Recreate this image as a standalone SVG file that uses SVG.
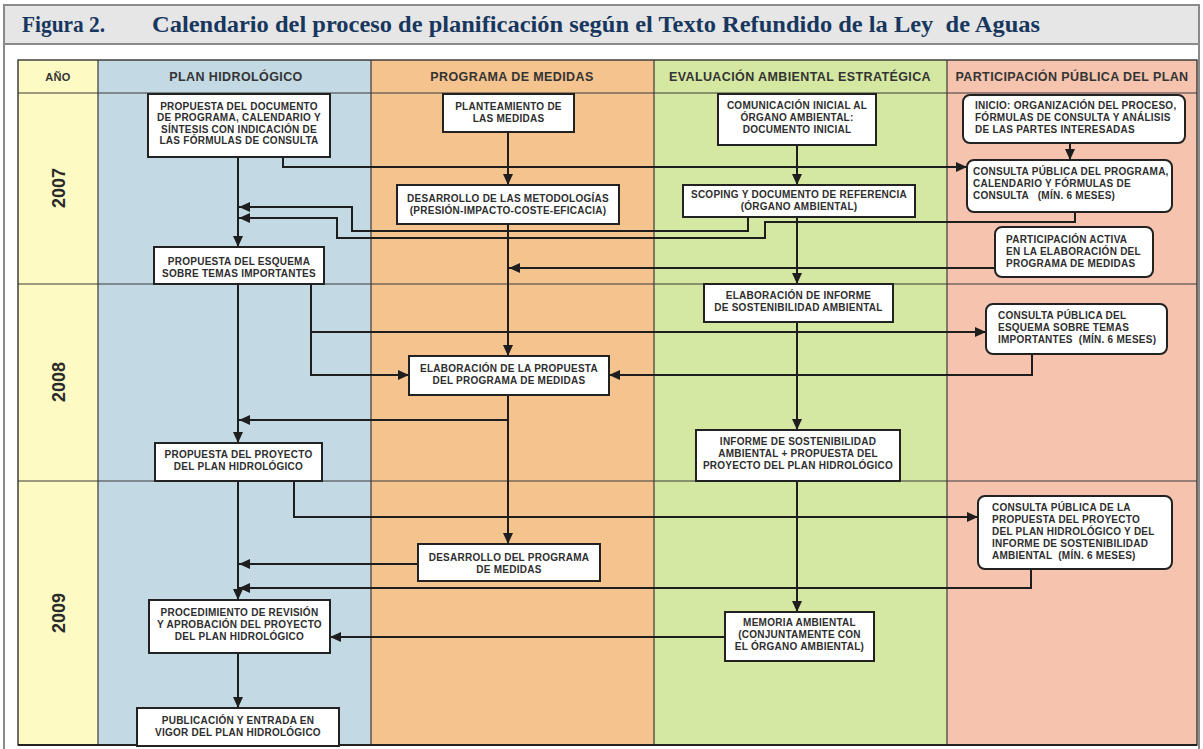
<svg xmlns="http://www.w3.org/2000/svg" width="1203" height="749" viewBox="0 0 1203 749">
<defs>
<style>
.ttl{font-family:"Liberation Serif","Times New Roman",serif;font-weight:bold;font-size:24px;fill:#17375e}
.hd{font-family:"Liberation Sans",Arial,sans-serif;font-weight:bold;font-size:12.5px;fill:#333;letter-spacing:0.4px;text-anchor:middle}
.yr{font-family:"Liberation Sans",Arial,sans-serif;font-weight:bold;font-size:18px;fill:#2a2a2a;text-anchor:middle}
.t{font-family:"Liberation Sans",Arial,sans-serif;font-weight:bold;font-size:10px;fill:#2e2e2e;letter-spacing:0.25px}
.c{text-anchor:middle}
.box{fill:#fff;stroke:#222;stroke-width:2}
.grid{stroke:#3a3a3a;stroke-width:1.2;fill:none}
.arr{fill:none;stroke:#1e1e1e;stroke-width:2;marker-end:url(#ah)}
</style>
<marker id="ah" markerUnits="userSpaceOnUse" markerWidth="11" markerHeight="10" refX="11" refY="5" orient="auto">
<path d="M0,0 L11,5 L0,10 z" fill="#1e1e1e"/>
</marker>
</defs>

<!-- frame and title -->
<g id="frame">
<rect x="0" y="0" width="1203" height="749" fill="#fff"/>
<line x1="4" y1="5" x2="4" y2="749" stroke="#8a8a8a" stroke-width="2"/>
<line x1="1199" y1="5" x2="1199" y2="749" stroke="#8a8a8a" stroke-width="2"/>
<rect x="4" y="5" width="1195" height="39" fill="#e6e6e6" stroke="#8a8a8a" stroke-width="2"/>
<text class="ttl" x="22" y="32" textLength="83" lengthAdjust="spacingAndGlyphs">Figura 2.</text>
<text class="ttl" x="152" y="32" textLength="888" lengthAdjust="spacingAndGlyphs" xml:space="preserve">Calendario del proceso de planificación según el Texto Refundido de la Ley  de Aguas</text>
</g>

<!-- swimlanes -->
<g id="lanes">
<rect x="18" y="60" width="80" height="685" fill="#fdfbc3"/>
<rect x="98" y="60" width="273" height="685" fill="#c3d9e3"/>
<rect x="371" y="60" width="283" height="685" fill="#f5c48e"/>
<rect x="654" y="60" width="293" height="685" fill="#d5e8a2"/>
<rect x="947" y="60" width="250" height="685" fill="#f5c3ae"/>
<path class="grid" d="M98 60V745M371 60V745M654 60V745M947 60V745M18 93H1197M18 284H1197M18 481H1197"/>
<rect x="18" y="60" width="1179" height="685" fill="none" stroke="#333" stroke-width="1.4"/>
<line x1="18" y1="745" x2="1197" y2="745" stroke="#222" stroke-width="2"/>
<text class="hd" x="58" y="81" style="font-size:11px">AÑO</text>
<text class="hd" x="236" y="81">PLAN HIDROLÓGICO</text>
<text class="hd" x="512" y="81">PROGRAMA DE MEDIDAS</text>
<text class="hd" x="800" y="81">EVALUACIÓN AMBIENTAL ESTRATÉGICA</text>
<text class="hd" x="1072" y="81">PARTICIPACIÓN PÚBLICA DEL PLAN</text>
<text class="yr" transform="translate(64.5,188) rotate(-90)">2007</text>
<text class="yr" transform="translate(64.5,382) rotate(-90)">2008</text>
<text class="yr" transform="translate(64.5,613) rotate(-90)">2009</text>
</g>

<!-- connectors -->
<g id="connectors">
<path class="arr" d="M238 157V247"/>
<path class="arr" d="M283 157V167H967"/>
<path class="arr" d="M748 217V231H352V207H239"/>
<path class="arr" d="M1075 212V222H765V238H337V218H239"/>
<path class="arr" d="M508 132V185"/>
<path class="arr" d="M797 145V185"/>
<path class="arr" d="M1070 143V160"/>
<path class="arr" d="M995 268H509"/>
<path class="arr" d="M508 224V356"/>
<path class="arr" d="M797 217V284"/>
<path class="arr" d="M238 284V443"/>
<path class="arr" d="M311 284V375H409"/>
<path class="arr" d="M311 332H986"/>
<path class="arr" d="M1032 354V375H609"/>
<path class="arr" d="M508 395V544"/>
<path class="arr" d="M508 420H239"/>
<path class="arr" d="M797 322V430"/>
<path class="arr" d="M238 481V600"/>
<path class="arr" d="M294 481V517H978"/>
<path class="arr" d="M418 564H239"/>
<path class="arr" d="M1031 569V588H239"/>
<path class="arr" d="M797 481V612"/>
<path class="arr" d="M725 637H330"/>
<path class="arr" d="M238 653V708"/>
</g>

<!-- Plan hidrológico -->
<g id="p1">
<rect class="box" x="148" y="94" width="182" height="63"/>
<text class="t c" x="239" y="109.5">PROPUESTA DEL DOCUMENTO</text>
<text class="t c" x="239" y="121">DE PROGRAMA, CALENDARIO Y</text>
<text class="t c" x="239" y="132.5">SÍNTESIS CON INDICACIÓN DE</text>
<text class="t c" x="239" y="144">LAS FÓRMULAS DE CONSULTA</text>
</g>
<g id="p2">
<rect class="box" x="154" y="247" width="170" height="37"/>
<text class="t c" x="239" y="265">PROPUESTA DEL ESQUEMA</text>
<text class="t c" x="239" y="276.5">SOBRE TEMAS IMPORTANTES</text>
</g>
<g id="p3">
<rect class="box" x="155" y="443" width="167" height="38"/>
<text class="t c" x="238.5" y="458">PROPUESTA DEL PROYECTO</text>
<text class="t c" x="238.5" y="470">DEL PLAN HIDROLÓGICO</text>
</g>
<g id="p4">
<rect class="box" x="149" y="600" width="181" height="53"/>
<text class="t c" x="239.5" y="616">PROCEDIMIENTO DE REVISIÓN</text>
<text class="t c" x="239.5" y="628">Y APROBACIÓN DEL PROYECTO</text>
<text class="t c" x="239.5" y="640">DEL PLAN HIDROLÓGICO</text>
</g>
<g id="p5">
<rect class="box" x="137" y="708" width="202" height="38"/>
<text class="t c" x="238" y="724">PUBLICACIÓN Y ENTRADA EN</text>
<text class="t c" x="238" y="735.5">VIGOR DEL PLAN HIDROLÓGICO</text>
</g>

<!-- Programa de medidas -->
<g id="m1">
<rect class="box" x="443" y="94" width="131" height="38"/>
<text class="t c" x="508.5" y="110">PLANTEAMIENTO DE</text>
<text class="t c" x="508.5" y="122">LAS MEDIDAS</text>
</g>
<g id="m2">
<rect class="box" x="397" y="185" width="222" height="39"/>
<text class="t c" x="508" y="202">DESARROLLO DE LAS METODOLOGÍAS</text>
<text class="t c" x="508" y="213.5">(PRESIÓN-IMPACTO-COSTE-EFICACIA)</text>
</g>
<g id="m3">
<rect class="box" x="409" y="356" width="200" height="39"/>
<text class="t c" x="509" y="372">ELABORACIÓN DE LA PROPUESTA</text>
<text class="t c" x="509" y="384">DEL PROGRAMA DE MEDIDAS</text>
</g>
<g id="m4">
<rect class="box" x="418" y="544" width="182" height="37"/>
<text class="t c" x="509" y="561">DESARROLLO DEL PROGRAMA</text>
<text class="t c" x="509" y="573">DE MEDIDAS</text>
</g>

<!-- Evaluación ambiental estratégica -->
<g id="e1">
<rect class="box" x="718" y="94" width="158" height="51"/>
<text class="t c" x="797" y="109">COMUNICACIÓN INICIAL AL</text>
<text class="t c" x="797" y="121">ÓRGANO AMBIENTAL:</text>
<text class="t c" x="797" y="133">DOCUMENTO INICIAL</text>
</g>
<g id="e2">
<rect class="box" x="683" y="185" width="232" height="32"/>
<text class="t c" x="799" y="198">SCOPING Y DOCUMENTO DE REFERENCIA</text>
<text class="t c" x="799" y="210">(ÓRGANO AMBIENTAL)</text>
</g>
<g id="e3">
<rect class="box" x="704" y="284" width="189" height="38"/>
<text class="t c" x="798.5" y="299">ELABORACIÓN DE INFORME</text>
<text class="t c" x="798.5" y="311">DE SOSTENIBILIDAD AMBIENTAL</text>
</g>
<g id="e4">
<rect class="box" x="696" y="430" width="204" height="51"/>
<text class="t c" x="798" y="445">INFORME DE SOSTENIBILIDAD</text>
<text class="t c" x="798" y="457">AMBIENTAL + PROPUESTA DEL</text>
<text class="t c" x="798" y="469">PROYECTO DEL PLAN HIDROLÓGICO</text>
</g>
<g id="e5">
<rect class="box" x="725" y="612" width="149" height="49"/>
<text class="t c" x="799.5" y="626">MEMORIA AMBIENTAL</text>
<text class="t c" x="799.5" y="638">(CONJUNTAMENTE CON</text>
<text class="t c" x="799.5" y="650">EL ÓRGANO AMBIENTAL)</text>
</g>

<!-- Participación pública -->
<g id="i1">
<rect class="box" x="963" y="95" width="222" height="48" rx="7"/>
<text class="t" x="975" y="109">INICIO: ORGANIZACIÓN DEL PROCESO,</text>
<text class="t" x="975" y="121">FÓRMULAS DE CONSULTA Y ANÁLISIS</text>
<text class="t" x="975" y="133">DE LAS PARTES INTERESADAS</text>
</g>
<g id="i2">
<rect class="box" x="967" y="160" width="205" height="52" rx="7"/>
<text class="t" x="973" y="175">CONSULTA PÚBLICA DEL PROGRAMA,</text>
<text class="t" x="973" y="187">CALENDARIO Y FÓRMULAS DE</text>
<text class="t" x="973" y="199" xml:space="preserve">CONSULTA   (MÍN. 6 MESES)</text>
</g>
<g id="i3">
<rect class="box" x="995" y="227" width="158" height="50" rx="7"/>
<text class="t" x="1006" y="243">PARTICIPACIÓN ACTIVA</text>
<text class="t" x="1006" y="255">EN LA ELABORACIÓN DEL</text>
<text class="t" x="1006" y="267">PROGRAMA DE MEDIDAS</text>
</g>
<g id="i4">
<rect class="box" x="986" y="304" width="181" height="50" rx="7"/>
<text class="t" x="998" y="319">CONSULTA PÚBLICA DEL</text>
<text class="t" x="998" y="331">ESQUEMA SOBRE TEMAS</text>
<text class="t" x="998" y="343" xml:space="preserve">IMPORTANTES  (MÍN. 6 MESES)</text>
</g>
<g id="i5">
<rect class="box" x="978" y="496" width="194" height="73" rx="7"/>
<text class="t" x="992" y="510.5">CONSULTA PÚBLICA DE LA</text>
<text class="t" x="992" y="522.5">PROPUESTA DEL PROYECTO</text>
<text class="t" x="992" y="534.5">DEL PLAN HIDROLÓGICO Y DEL</text>
<text class="t" x="992" y="546.5">INFORME DE SOSTENIBILIDAD</text>
<text class="t" x="992" y="558.5" xml:space="preserve">AMBIENTAL  (MÍN. 6 MESES)</text>
</g>
</svg>
